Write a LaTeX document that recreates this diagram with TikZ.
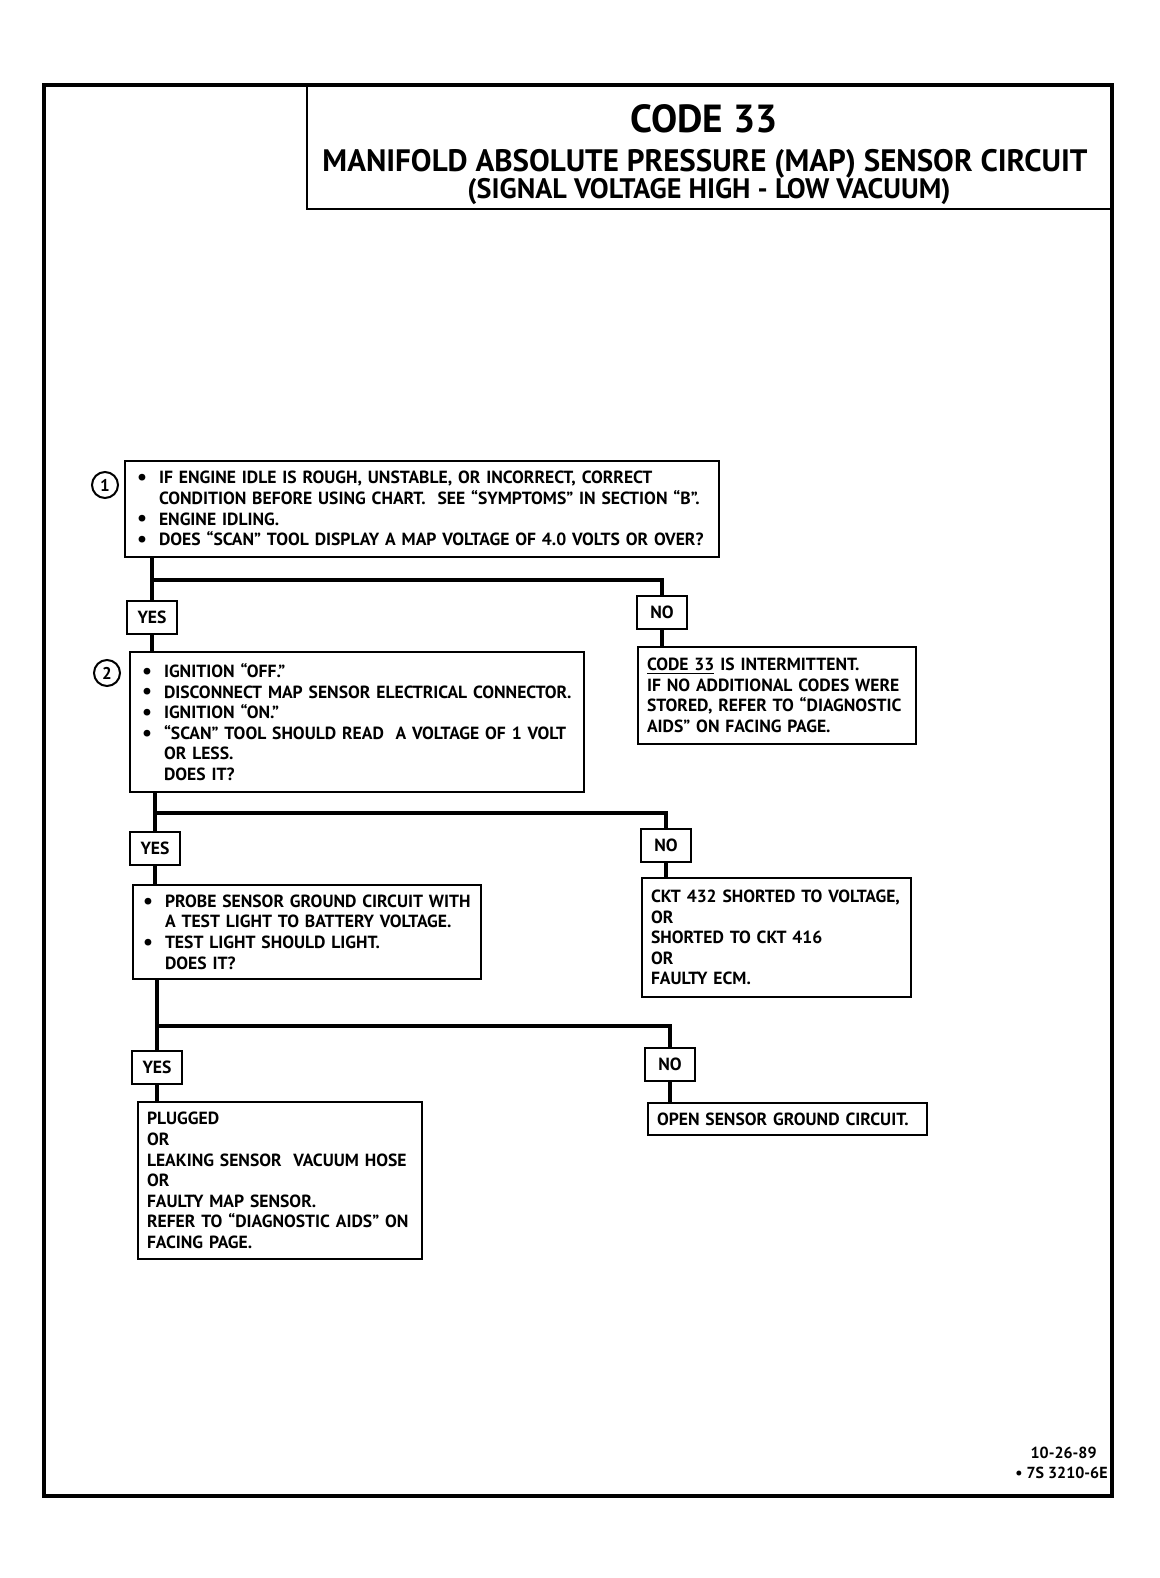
\documentclass[tikz,border=0pt]{standalone}
\usepackage{fontspec}
\setmainfont{PT Sans}
\usepackage{tikz}
\usetikzlibrary{positioning}
\newcommand{\bl}{\makebox[11pt][l]{\raisebox{-0.4pt}{\fontsize{11}{11}\selectfont•}}}
\newcommand{\ind}{\hspace*{11pt}}
\begin{document}
\begin{tikzpicture}[
  x=0.5pt, y=-0.5pt,
  box/.style={draw, line width=1pt, anchor=north west, align=left, inner xsep=4.5pt, inner ysep=3pt, font=\bfseries\fontsize{8.8}{10.3}\selectfont},
  qbox/.style={box, inner xsep=6pt},
  lbl/.style={draw, line width=1pt, fill=white, minimum width=25pt, minimum height=16.5pt, inner sep=0pt, font=\bfseries\fontsize{8.8}{9}\selectfont},
  num/.style={draw, circle, line width=1pt, minimum size=13pt, inner sep=0pt, font=\bfseries\fontsize{8.5}{9}\selectfont},
  wire/.style={line width=2.3pt},
  ttl/.style={font=\bfseries\fontsize{#1}{#1}\selectfont},
  foot/.style={anchor=east, inner sep=0pt, font=\bfseries\fontsize{8}{9}\selectfont}
]
  \useasboundingbox (0,0) rectangle (1160,1578);
  \draw[line width=1.8pt] (44,85) rectangle (1112,1496);
  \draw[line width=1pt] (307,85) |- (1112,209);
  \node[ttl=19.6] (t1) at (704,119) {CODE 33};
  \node[ttl=15.5] (t2) at (705,164) {MANIFOLD ABSOLUTE PRESSURE (MAP) SENSOR CIRCUIT};
  \node[ttl=14.1] (t3) at (709,192) {(SIGNAL VOLTAGE HIGH - LOW VACUUM)};

  \node[num] (c1) at (105,485) {1};
  \node[qbox, text width=285pt, minimum height=48pt] (q1) at (124,460) {\bl IF ENGINE IDLE IS ROUGH, UNSTABLE, OR INCORRECT, CORRECT\\
  \ind CONDITION BEFORE USING CHART.\ \ SEE “SYMPTOMS” IN SECTION “B”.\\
  \bl ENGINE IDLING.\\
  \bl DOES “SCAN” TOOL DISPLAY A MAP VOLTAGE OF 4.0 VOLTS OR OVER?};
  \node[lbl] (y1) at (152,617) {YES};
  \node[lbl] (n1) at (662,612) {NO};
  \node[box, text width=130pt, minimum height=48.5pt] (im) at (637,646) {\underline{CODE 33} IS INTERMITTENT.\\
  IF NO ADDITIONAL CODES WERE\\
  STORED, REFER TO “DIAGNOSTIC\\
  AIDS” ON FACING PAGE.};

  \node[num] (c2) at (107,673) {2};
  \node[qbox, text width=215pt, minimum height=70pt] (q2) at (129,651) {\bl IGNITION “OFF.”\\
  \bl DISCONNECT MAP SENSOR ELECTRICAL CONNECTOR.\\
  \bl IGNITION “ON.”\\
  \bl “SCAN” TOOL SHOULD READ\ \ A VOLTAGE OF 1 VOLT\\
  \ind OR LESS.\\
  \ind DOES IT?};
  \node[lbl] (y2) at (155,848) {YES};
  \node[lbl] (n2) at (666,845) {NO};
  \node[box, text width=125.5pt, minimum height=59.5pt] (ck) at (641,877) {CKT 432 SHORTED TO VOLTAGE,\\
  OR\\
  SHORTED TO CKT 416\\
  OR\\
  FAULTY ECM.};

  \node[qbox, inner xsep=5pt, text width=164pt, minimum height=47pt] (q3) at (132,884) {\bl PROBE SENSOR GROUND CIRCUIT WITH\\
  \ind A TEST LIGHT TO BATTERY VOLTAGE.\\
  \bl TEST LIGHT SHOULD LIGHT.\\
  \ind DOES IT?};
  \node[lbl] (y3) at (157,1067) {YES};
  \node[lbl] (n3) at (670,1064) {NO};
  \node[box, text width=133pt, minimum height=78.5pt] (pl) at (137,1101) {PLUGGED\\
  OR\\
  LEAKING SENSOR\ \ VACUUM HOSE\\
  OR\\
  FAULTY MAP SENSOR.\\
  REFER TO “DIAGNOSTIC AIDS” ON\\
  FACING PAGE.};
  \node[box, text width=130.5pt, minimum height=16pt] (op) at (647,1102) {OPEN SENSOR GROUND CIRCUIT.};

  \node[foot] (dt) at (1097,1453) {10-26-89};
  \node[foot] (pn) at (1108,1473) {• 7S 3210-6E};

  \coordinate (j1) at (152,580);
  \coordinate (j2) at (155,813);
  \coordinate (j3) at (157,1026);
  \draw[wire] (q1.south -| y1) -- (y1.north);
  \draw[wire] (y1.south) -- (y1.south |- q2.north);
  \draw[wire] (j1) -| (n1.north);
  \draw[wire] (n1.south) -- (n1.south |- im.north);
  \draw[wire] (q2.south -| y2) -- (y2.north);
  \draw[wire] (y2.south) -- (y2.south |- q3.north);
  \draw[wire] (j2) -| (n2.north);
  \draw[wire] (n2.south) -- (n2.south |- ck.north);
  \draw[wire] (q3.south -| y3) -- (y3.north);
  \draw[wire] (y3.south) -- (y3.south |- pl.north);
  \draw[wire] (j3) -| (n3.north);
  \draw[wire] (n3.south) -- (n3.south |- op.north);
\end{tikzpicture}
\end{document}
